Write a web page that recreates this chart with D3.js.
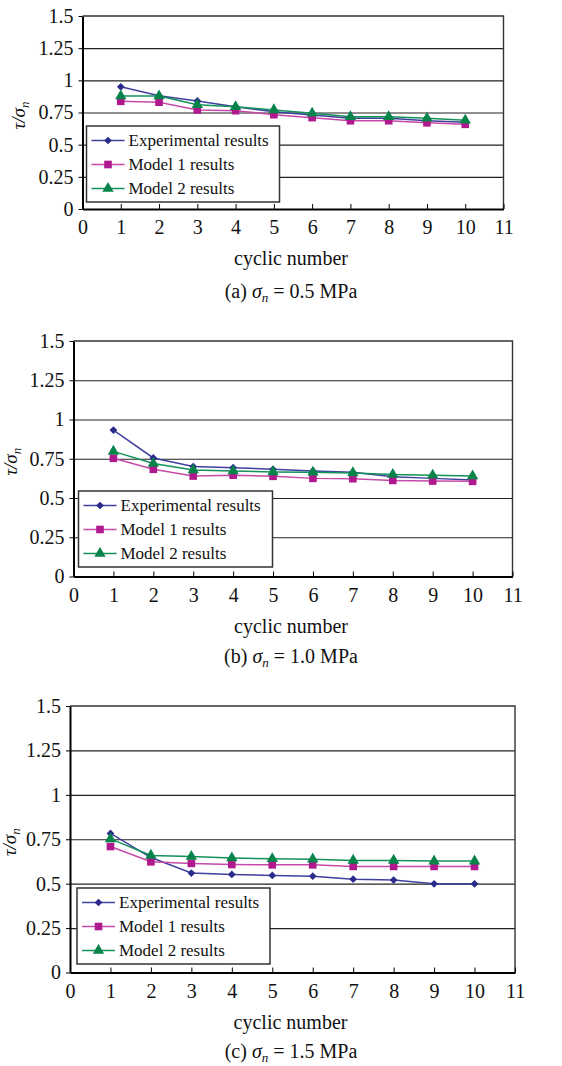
<!DOCTYPE html>
<html><head><meta charset="utf-8">
<script src="https://cdn.jsdelivr.net/npm/d3@7"></script>
<style>
html,body{margin:0;padding:0;background:#fff;}
svg{display:block;font-family:"Liberation Serif","Times New Roman",serif;}
</style></head>
<body>
<svg id="chart" width="562" height="1066"></svg>
<script>
// ---- data ----
const cycles = [1, 2, 3, 4, 5, 6, 7, 8, 9, 10];
const xTicks = [0, 1, 2, 3, 4, 5, 6, 7, 8, 9, 10, 11];
const yTicks = [0, 0.25, 0.5, 0.75, 1, 1.25, 1.5];
const yTickLabels = ["0", "0.25", "0.5", "0.75", "1", "1.25", "1.5"];
const seriesNames = ["Experimental results", "Model 1 results", "Model 2 results"];
const panelLetters = ["(a)", "(b)", "(c)"];
const panelStress = ["0.5", "1.0", "1.5"];

const expA = [0.95, 0.88, 0.84, 0.795, 0.756, 0.73, 0.705, 0.705, 0.686, 0.674];
const m1A  = [0.837, 0.83, 0.77, 0.764, 0.733, 0.71, 0.686, 0.686, 0.67, 0.658];
const m2A  = [0.878, 0.878, 0.81, 0.795, 0.77, 0.744, 0.717, 0.717, 0.705, 0.69];

const expB = [0.933, 0.755, 0.70, 0.693, 0.683, 0.672, 0.664, 0.636, 0.625, 0.615];
const m1B  = [0.753, 0.683, 0.64, 0.645, 0.638, 0.625, 0.623, 0.612, 0.608, 0.606];
const m2B  = [0.797, 0.72, 0.678, 0.672, 0.666, 0.664, 0.66, 0.65, 0.645, 0.64];

const expC = [0.783, 0.647, 0.56, 0.552, 0.546, 0.542, 0.525, 0.52, 0.499, 0.499];
const m1C  = [0.709, 0.623, 0.614, 0.608, 0.606, 0.606, 0.597, 0.597, 0.597, 0.597];
const m2C  = [0.752, 0.659, 0.653, 0.644, 0.64, 0.638, 0.631, 0.631, 0.627, 0.627];

// ---- styles / layout ----
const styles = [
  {line: "#40409f", mark: "#2b2b8c", sym: d3.symbolSquare, size: 30, rot: 45},
  {line: "#c64aa9", mark: "#b0188e", sym: d3.symbolSquare, size: 58, rot: 0},
  {line: "#12915a", mark: "#08834a", sym: d3.symbolTriangle, size: 56, rot: 0}
];
const panels = [
  {series: [expA, m1A, m2A], left: 82.5, right: 503.5, top: 16, bottom: 209,
   legend: {x: 86.5, y: 126, w: 193, h: 76}, ylabX: 25, xlabY: 265, capY: 298},
  {series: [expB, m1B, m2B], left: 73.5, right: 512.5, top: 341, bottom: 576.5,
   legend: {x: 78.5, y: 491, w: 194, h: 76}, ylabX: 17, xlabY: 633, capY: 663},
  {series: [expC, m1C, m2C], left: 70, right: 515, top: 706, bottom: 972.5,
   legend: {x: 77, y: 888, w: 193, h: 76}, ylabX: 16, xlabY: 1029, capY: 1058}
];

const svg = d3.select("#chart");

panels.forEach((p, pi) => {
  const g = svg.append("g");
  const x = d3.scaleLinear().domain([0, 11]).range([p.left, p.right]);
  const y = d3.scaleLinear().domain([0, 1.5]).range([p.bottom, p.top]);

  // gridlines
  g.append("g")
    .attr("transform", `translate(${p.left},0)`)
    .call(d3.axisLeft(y).tickValues(yTicks.filter(v => v > 0 && v < 1.5))
      .tickSize(-(p.right - p.left)).tickFormat(""))
    .call(a => a.select(".domain").remove())
    .call(a => a.selectAll("line").attr("stroke", "#222").attr("stroke-width", 1.1));

  // frame top/right
  g.append("path")
    .attr("d", `M${p.left},${p.top}H${p.right}V${p.bottom}`)
    .attr("fill", "none").attr("stroke", "#333").attr("stroke-width", 1.4);

  // y axis
  const ya = g.append("g")
    .attr("transform", `translate(${p.left},0)`)
    .call(d3.axisLeft(y).tickValues(yTicks).tickSizeInner(4).tickSizeOuter(0).tickPadding(5)
      .tickFormat((d, i) => yTickLabels[i]));
  ya.select(".domain").attr("stroke", "#000").attr("stroke-width", 2);
  ya.selectAll("line").attr("stroke", "#000");
  ya.selectAll("text").attr("font-size", 20).attr("fill", "#111")
    .attr("font-family", "Liberation Serif");

  // x axis
  const xa = g.append("g")
    .attr("transform", `translate(0,${p.bottom})`)
    .call(d3.axisBottom(x).tickValues(xTicks).tickSizeInner(-5).tickSizeOuter(0).tickPadding(11)
      .tickFormat(d3.format("d")));
  xa.select(".domain").attr("stroke", "#000").attr("stroke-width", 2.2);
  xa.selectAll("line").attr("stroke", "#000");
  xa.selectAll("text").attr("font-size", 20).attr("fill", "#111")
    .attr("font-family", "Liberation Serif");

  // series
  const line = d3.line().x((d, i) => x(cycles[i])).y(d => y(d));
  p.series.forEach((vals, si) => {
    const st = styles[si];
    g.append("path").datum(vals)
      .attr("d", line).attr("fill", "none")
      .attr("stroke", st.line).attr("stroke-width", 1.5);
    g.selectAll(null).data(vals).enter().append("path")
      .attr("d", d3.symbol().type(st.sym).size(st.size))
      .attr("transform", (d, i) => `translate(${x(cycles[i])},${y(d)}) rotate(${st.rot})`)
      .attr("fill", st.mark);
  });

  // legend
  const L = p.legend;
  const lg = g.append("g").attr("transform", `translate(${L.x},${L.y})`);
  lg.append("rect").attr("width", L.w).attr("height", L.h)
    .attr("fill", "#fff").attr("stroke", "#333").attr("stroke-width", 1.5);
  seriesNames.forEach((name, si) => {
    const st = styles[si];
    const ry = 14.5 + si * 24;
    lg.append("line").attr("x1", 5).attr("x2", 38).attr("y1", ry).attr("y2", ry)
      .attr("stroke", st.line).attr("stroke-width", 1.5);
    lg.append("path").attr("d", d3.symbol().type(st.sym).size(st.size))
      .attr("transform", `translate(21.5,${ry}) rotate(${st.rot})`).attr("fill", st.mark);
    lg.append("text").attr("x", 42).attr("y", ry).attr("dy", "0.35em")
      .attr("font-size", 17).attr("fill", "#111").text(name);
  });

  // y axis label  τ/σn
  const yl = svg.append("text")
    .attr("transform", `translate(${p.ylabX},${(p.top + p.bottom) / 2 + 3}) rotate(-90)`)
    .attr("text-anchor", "middle").attr("font-size", 19).attr("fill", "#111")
    .attr("font-style", "italic");
  yl.append("tspan").text("τ/σ");
  yl.append("tspan").attr("font-size", 13).attr("dy", 4).text("n");

  // x axis label
  svg.append("text").attr("x", (p.left + p.right) / 2 - 2).attr("y", p.xlabY)
    .attr("text-anchor", "middle").attr("font-size", 20).attr("fill", "#111")
    .text("cyclic number");

  // caption
  const cap = svg.append("text").attr("x", 291).attr("y", p.capY)
    .attr("text-anchor", "middle").attr("font-size", 20).attr("fill", "#111");
  cap.append("tspan").text(panelLetters[pi] + " ");
  cap.append("tspan").attr("font-style", "italic").text("σ");
  cap.append("tspan").attr("font-style", "italic").attr("font-size", 13).attr("dy", 4).text("n");
  cap.append("tspan").attr("dy", -4).text(" = " + panelStress[pi] + " MPa");
});
</script>
</body></html>
